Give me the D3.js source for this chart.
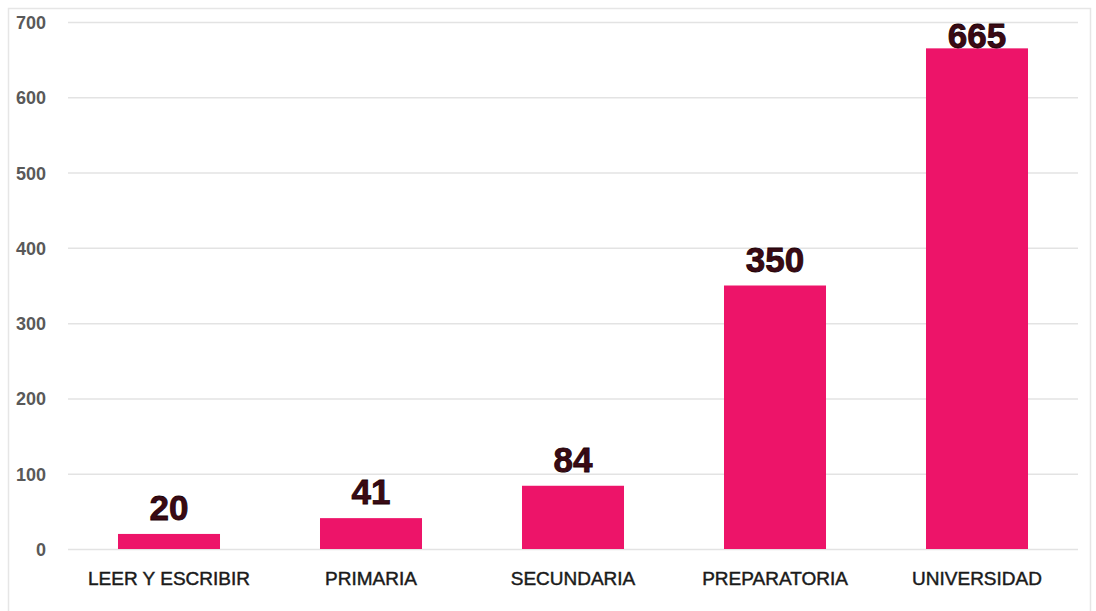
<!DOCTYPE html>
<html><head><meta charset="utf-8">
<script src="https://cdn.jsdelivr.net/npm/d3@7"></script>
<style>body{margin:0;background:#fff}svg{display:block}</style>
</head><body>
<svg id="c" width="1096" height="611"></svg>
<script>
const categories = ["LEER Y ESCRIBIR","PRIMARIA","SECUNDARIA","PREPARATORIA","UNIVERSIDAD"];
const values = [20,41,84,350,665];
const yTicks = [0,100,200,300,400,500,600,700];

const svg = d3.select("#c");
const m = {left:68, right:1078, top:22, bottom:549};

svg.append("rect").attr("x",8.5).attr("y",8.5).attr("width",1082).attr("height",620)
  .attr("fill","none").attr("stroke","#e6e6e6").attr("stroke-width",1.5);

const x = d3.scaleBand().domain(categories).range([m.left,m.right]).paddingInner(0.495).paddingOuter(0.2475);
const y = d3.scaleLinear().domain([0,700]).range([m.bottom,m.top]);

const g = svg.append("g");
g.selectAll("line.grid").data(yTicks).join("line").attr("class","grid")
  .attr("x1",m.left).attr("x2",m.right).attr("y1",d=>y(d)+0.5).attr("y2",d=>y(d)+0.5)
  .attr("stroke","#e3e3e3").attr("stroke-width",1.5);

const yAxis = svg.append("g").attr("transform",`translate(46,0)`)
  .call(d3.axisLeft(y).tickValues(yTicks).tickSize(0).tickPadding(0));
yAxis.select(".domain").remove();
yAxis.selectAll("text").attr("font-family","'Liberation Sans',Arial,sans-serif")
  .attr("font-size",18).attr("font-weight","bold").attr("fill","#595959").attr("dy","0.36em");

g.selectAll("rect.bar").data(values).join("rect").attr("class","bar")
  .attr("x",(d,i)=>x(categories[i])).attr("width",x.bandwidth())
  .attr("y",d=>y(d)).attr("height",d=>y(0)-y(d)).attr("fill","#ED1469");

g.selectAll("text.val").data(values).join("text").attr("class","val")
  .attr("x",(d,i)=>x(categories[i])+x.bandwidth()/2)
  .attr("y",d=>Math.max(y(d)-14, y(700)+26))
  .attr("text-anchor","middle")
  .attr("font-family","'Liberation Sans',Arial,sans-serif").attr("font-weight","bold")
  .attr("font-size",35).attr("fill","#3b0a14").attr("stroke","#1a0006").attr("stroke-width",0.8)
  .text(d=>d);

const xAxis = svg.append("g").attr("transform",`translate(0,${m.bottom})`)
  .call(d3.axisBottom(x).tickSize(0).tickPadding(0));
xAxis.select(".domain").remove();
xAxis.selectAll("text").attr("font-family","'Liberation Sans',Arial,sans-serif")
  .attr("font-size",19).attr("fill","#1a1a1a").attr("stroke","#1a1a1a").attr("stroke-width",0.45)
  .attr("dy",0).attr("y",36);
</script>
</body></html>
